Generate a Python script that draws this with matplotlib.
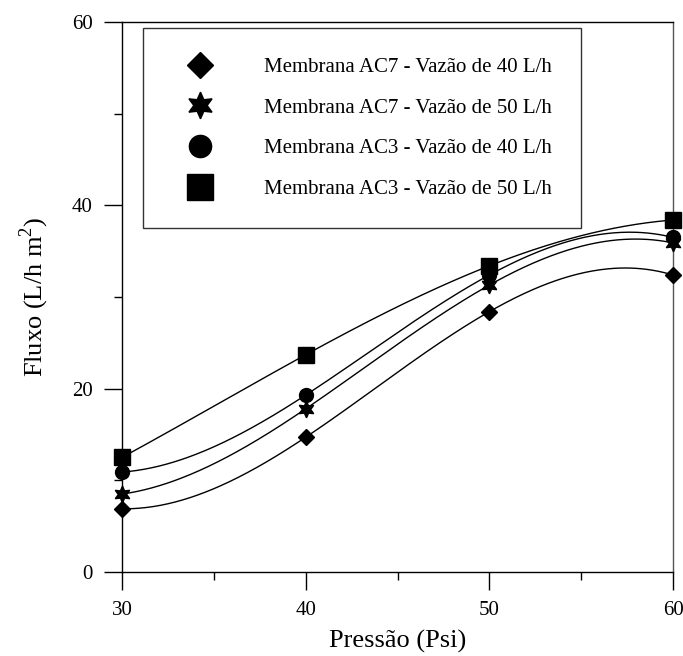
import numpy as np
import matplotlib
matplotlib.use("Agg")
import matplotlib.pyplot as plt
from matplotlib.ticker import MultipleLocator

plt.rcParams['font.family'] = ['Liberation Serif', 'DejaVu Serif']
plt.rcParams['mathtext.fontset'] = 'custom'
plt.rcParams['mathtext.rm'] = 'Liberation Serif'

pressure = [30, 40, 50, 60]
ac7_40 = [6.9, 14.7, 28.4, 32.4]
ac7_50 = [8.5, 17.8, 31.3, 35.9]
ac3_40 = [10.9, 19.3, 32.4, 36.5]
ac3_50 = [12.5, 23.7, 33.4, 38.4]
labels = ["Membrana AC7 - Vazão de 40 L/h",
          "Membrana AC7 - Vazão de 50 L/h",
          "Membrana AC3 - Vazão de 40 L/h",
          "Membrana AC3 - Vazão de 50 L/h"]
series = [ac7_40, ac7_50, ac3_40, ac3_50]
markers = ['D', (6, 1, 0), 'o', 's']
msizes = [8, 12, 10, 11.5]

fig = plt.figure(figsize=(6.83, 6.56), dpi=100)
ax = fig.add_axes([122/683, 84/656, 551/683, 550/656])

xs = np.linspace(30, 60, 300)
handles = []
for y, m, ms, lab in zip(series, markers, msizes, labels):
    coef = np.polyfit(pressure, y, 3)
    ax.plot(xs, np.polyval(coef, xs), color='black', lw=1.0, zorder=2)
    h, = ax.plot(pressure, y, linestyle='none', marker=m, markersize=ms,
                 color='black', zorder=3, clip_on=False, label=lab)
    handles.append(h)

ax.set_xlim(30, 60)
ax.set_ylim(0, 60)
ax.xaxis.set_major_locator(MultipleLocator(10))
ax.xaxis.set_minor_locator(MultipleLocator(5))
ax.yaxis.set_major_locator(MultipleLocator(20))
ax.yaxis.set_minor_locator(MultipleLocator(10))
ax.tick_params(which='major', direction='out', length=13, width=1, labelsize=15, pad=8)
ax.tick_params(which='minor', direction='out', length=6, width=1)
ax.tick_params(top=False, right=False, which='both')
for s in ax.spines.values():
    s.set_linewidth(1.0)
ax.spines['right'].set_color('#555555')

ax.set_xlabel("Pressão (Psi)", fontsize=19, labelpad=7)
ax.set_ylabel("Fluxo (L/h m$^2$)", fontsize=19, labelpad=15)

leg = ax.legend(handles=handles, loc='upper left', bbox_to_anchor=(0.038, 0.989),
                frameon=True, fancybox=False, edgecolor='black', fontsize=15,
                borderpad=1.4, labelspacing=1.02, handlelength=2.7,
                handletextpad=1.7, borderaxespad=0, markerscale=1.6)
leg.get_frame().set_linewidth(1.0)

fig.savefig("out.png", dpi=100)
